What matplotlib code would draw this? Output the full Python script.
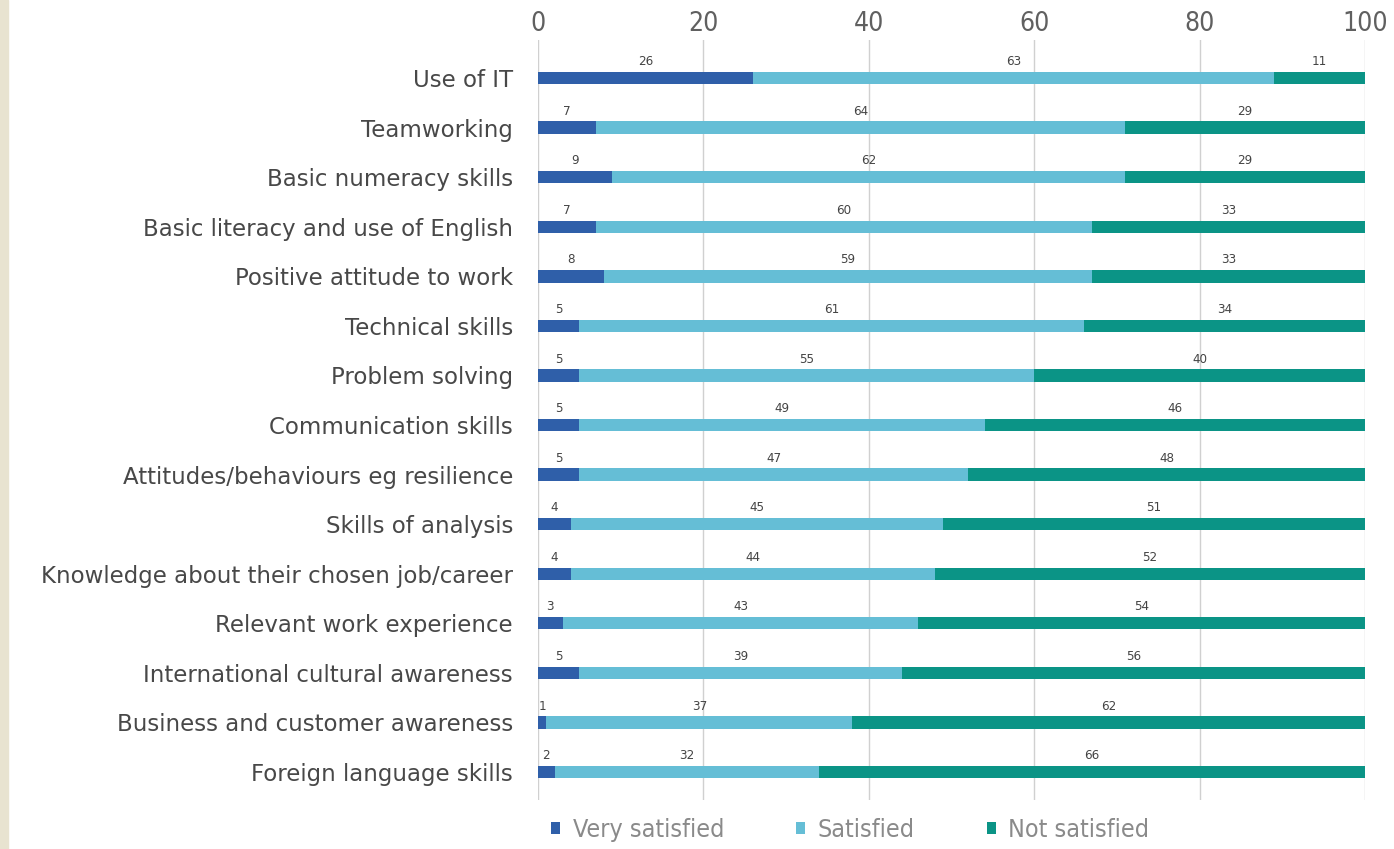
import matplotlib.pyplot as plt
import numpy as np

# data
categories = ['Use of IT', 'Teamworking', 'Basic numeracy skills',
              'Basic literacy and use of English', 'Positive attitude to work',
              'Technical skills', 'Problem solving', 'Communication skills',
              'Attitudes/behaviours eg resilience', 'Skills of analysis',
              'Knowledge about their chosen job/career', 'Relevant work experience',
              'International cultural awareness', 'Business and customer awareness',
              'Foreign language skills']
very_satisfied = [26, 7, 9, 7, 8, 5, 5, 5, 5, 4, 4, 3, 5, 1, 2]
satisfied = [63, 64, 62, 60, 59, 61, 55, 49, 47, 45, 44, 43, 39, 37, 32]
not_satisfied = [11, 29, 29, 33, 33, 34, 40, 46, 48, 51, 52, 54, 56, 62, 66]
series_names = ['Very satisfied', 'Satisfied', 'Not satisfied']
colors = ['#2f5fa9', '#65bed6', '#0b9486']
xticks = [0, 20, 40, 60, 80, 100]

fig = plt.figure(figsize=(13.94, 8.49), dpi=100)
# beige strip on the left edge
fig.patches.append(plt.Rectangle((0, 0), 8 / 1394, 1, transform=fig.transFigure,
                                 color='#e8e3d0', zorder=0))
ax = fig.add_axes([538 / 1394, 0.058, (1365 - 538) / 1394, 0.953 - 0.058])

y = np.arange(len(categories))
left = np.zeros(len(categories))
for vals, name, c in zip([very_satisfied, satisfied, not_satisfied], series_names, colors):
    vals = np.array(vals)
    ax.barh(y, vals, left=left, height=0.25, color=c, label=name, zorder=2)
    for yi, l, v in zip(y, left, vals):
        ax.text(l + v / 2, yi - 0.2, str(v), ha='center', va='bottom',
                fontsize=9.5, color='#444444', stretch='condensed')
    left = left + vals

ax.set_xlim(0, 100)
ax.set_ylim(14.56, -0.77)
ax.set_yticks(y)
ax.set_yticklabels(categories, fontsize=16.5, color='#484848')
ax.set_xticks(xticks)
ax.xaxis.tick_top()
ax.tick_params(axis='x', length=0, pad=2, labelsize=19, colors='#606060')
ax.tick_params(axis='y', length=0, pad=18)
for lab in ax.get_xticklabels():
    lab.set_stretch('condensed')
ax.grid(axis='x', color='#d0d0d0', linewidth=1, zorder=0)
for s in ax.spines.values():
    s.set_visible(False)

leg = fig.legend(loc='lower center', bbox_to_anchor=(0.610, -0.018), ncol=3,
                 frameon=False, fontsize=18, handlelength=0.35, handleheight=0.35,
                 columnspacing=2.9, handletextpad=0.5)
for t in leg.get_texts():
    t.set_color('#8a8a8a')
    t.set_stretch('condensed')

fig.savefig('out.png', dpi=100)
